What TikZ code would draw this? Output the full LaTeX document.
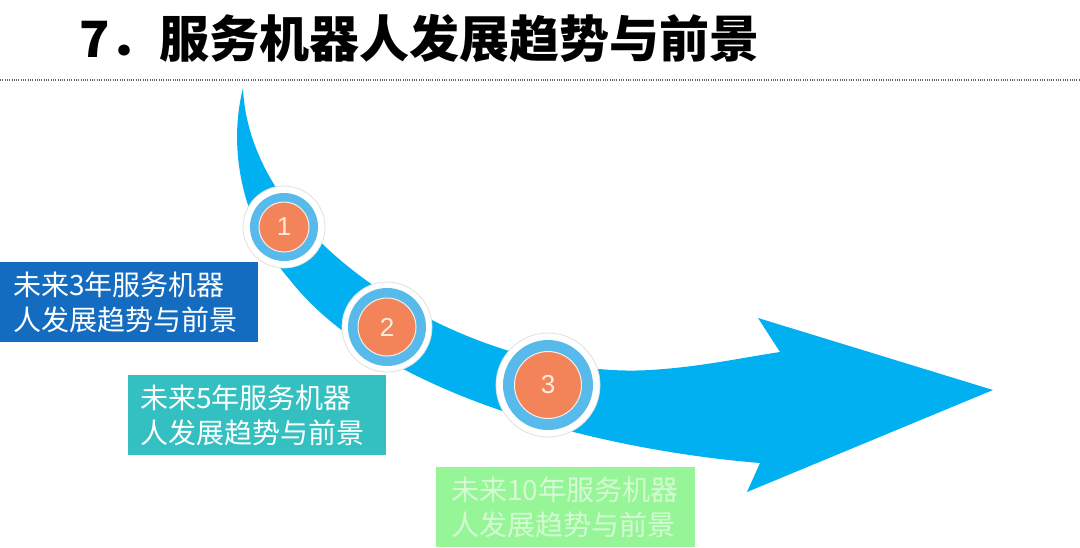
\documentclass[tikz,border=0pt]{standalone}
\usepackage{fontspec}
\newfontfamily\cjk{Noto Sans CJK SC}
\newfontfamily\numfont{Liberation Sans}
\definecolor{arrowblue}{RGB}{0,176,240}
\definecolor{ringblue}{RGB}{88,186,234}
\definecolor{dotorange}{RGB}{243,132,90}
\definecolor{numcol}{RGB}{255,236,218}
\definecolor{boxa}{RGB}{20,108,192}
\definecolor{boxb}{RGB}{52,192,192}
\definecolor{boxc}{RGB}{150,245,150}
\definecolor{dotline}{RGB}{100,100,100}
\tikzset{
  textbox/.style={rectangle, anchor=north west, inner ysep=0pt, inner xsep=#1,
    minimum height=80pt, align=left, text=white,
    font=\cjk\fontsize{28}{35}\selectfont},
  whitering/.style={circle, inner sep=0pt, minimum size=#1, fill=white, draw=black!12, line width=0.8pt},
  bluering/.style={circle, inner sep=0pt, minimum size=#1, fill=ringblue},
  orangedot/.style={circle, inner sep=0pt, minimum size=#1, fill=dotorange, draw=white!85!dotorange, line width=1pt,
    text=numcol, font=\numfont\fontsize{26}{26}\selectfont},
}
\begin{document}
\begin{tikzpicture}[x=1pt,y=-1pt]
\useasboundingbox (0,0) rectangle (1080,547);
\fill[white] (0,0) rectangle (1080,547);
% title
\node[anchor=base west, inner sep=0pt, font=\cjk\bfseries\fontsize{50}{60}\selectfont] (title) at (79,57) {7．服务机器人发展趋势与前景};
% dotted rule
\coordinate (ruleL) at (0,80);
\coordinate (ruleR) at (1080,80);
\draw[dotline, line width=1.4pt, dash pattern=on 1pt off 1.3pt] (ruleL) -- (ruleR);
% curved arrow
\fill[arrowblue] (243,88) .. controls (250,250) and (480,380) .. (650,370)
  .. controls (700,367) and (740,358) .. (780,352)
  -- (758,318) -- (993,390) -- (747,492) -- (760,463)
  .. controls (600,450) and (380,395) .. (290,280)
  .. controls (250,235) and (225,160) .. (243,88) -- cycle;
% step markers
\node[whitering=82pt] (w1) at (284,227) {};
\node[bluering=68pt] (r1) at (w1.center) {};
\node[orangedot=50pt] (o1) at (w1.center) {1};
\node[whitering=90pt] (w2) at (387,327) {};
\node[bluering=78pt] (r2) at (w2.center) {};
\node[orangedot=58pt] (o2) at (w2.center) {2};
\node[whitering=104pt] (w3) at (548,385) {};
\node[bluering=90pt] (r3) at (w3.center) {};
\node[orangedot=67pt] (o3) at (w3.center) {3};
% text boxes
\node[textbox=13pt, fill=boxa, text width=232pt] (b1) at (0,262) {未来3年服务机器\\人发展趋势与前景};
\node[textbox=12pt, fill=boxb, text width=234pt] (b2) at (128,375) {未来5年服务机器\\人发展趋势与前景};
\node[textbox=15pt, fill=boxc, text width=229pt, text=white!60!boxc] (b3) at (436,467) {未来10年服务机器\\人发展趋势与前景};
\end{tikzpicture}
\end{document}
